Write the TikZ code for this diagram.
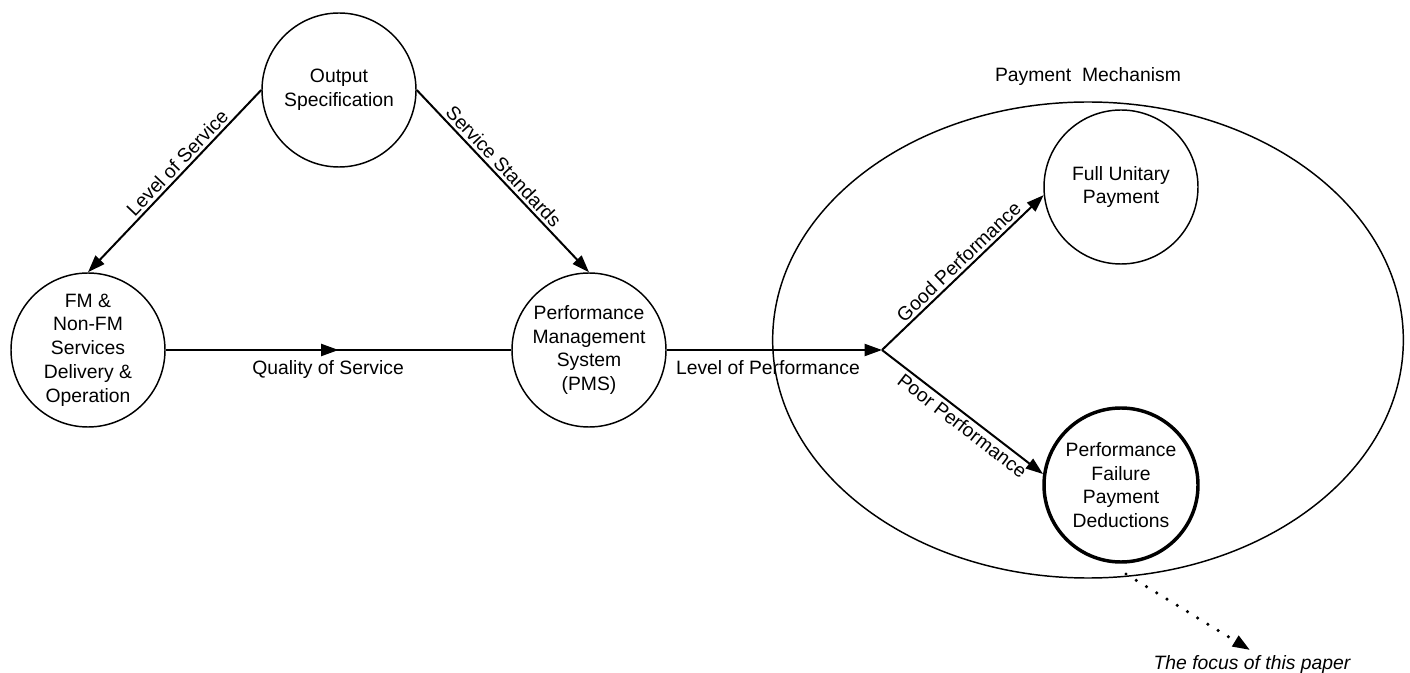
\documentclass[tikz,border=0pt]{standalone}
\usepackage{fontspec}
\setmainfont{Liberation Sans}
\usetikzlibrary{arrows.meta,shapes.geometric,decorations.markings}

\begin{document}
\begin{tikzpicture}[x=0.75pt, y=-0.75pt, thick,
		every node/.style={font=\fontsize{14.5}{17.8}\selectfont},
		main node/.style={circle,draw,line width=1.1pt,minimum size=115.5pt,inner sep=0pt,align=center},
		flow/.style={line width=1.5pt,-{Triangle[length=13pt,width=9pt]}},
		mid flow/.style={line width=1.5pt,postaction={decorate},
			decoration={markings,mark=at position 0.5 with {\arrow{Triangle[length=13pt,width=9pt]}}}},
		dotted flow/.style={line width=2.6pt,line cap=round,dash pattern=on 0pt off 9pt,-{Triangle[length=13pt,width=9pt]}}]
		
		\useasboundingbox (0,0) rectangle (1410,673);
		
		\node[main node] (1) at (339,90) {Output\\Specification};
		\node[main node] (2) at (88,350) {FM \&\\Non-FM\\Services\\Delivery \&\\Operation};
		\node[main node] (3) at (589,350) {Performance\\Management\\System\\(PMS)};
		
		% payment mechanism
		\node[draw,ellipse,line width=1.1pt,minimum width=473pt,minimum height=357pt,inner sep=0pt] (pm) at (1088,340) {};
		\node (pmlabel) at (1088,77) {Payment\ \ Mechanism};
		\node[main node] (4) at (1121,187) {Full Unitary\\Payment};
		\node[main node,line width=2.6pt] (5) at (1121,485) {Performance\\Failure\\Payment\\Deductions};
		\coordinate (b) at (882,350);
		
		\path[every node/.style={font=\fontsize{14.5}{17.8}\selectfont,inner sep=2pt}]
		(1.west) edge[flow] node[sloped,above,pos=0.44] {Level of Service} (2.north)
		(1.east) edge[flow] node[sloped,above,pos=0.46] {Service Standards} (3.north)
		(2.east) edge[mid flow] node[below=5pt,pos=0.47] {Quality of Service} (3.west)
		(3.east) edge[flow] node[below=5pt,pos=0.47] {Level of Performance} (b)
		(b) edge[flow] node[sloped,above,pos=0.52] {Good Performance} (4.186)
		(b) edge[flow] node[sloped,below,pos=0.54] {Poor Performance} (5.172);
		
		% focus
		\coordinate (f) at (1126,574);
		\node[font=\fontsize{14.5}{17.8}\selectfont\itshape] (6) at (1252,664) {The focus of this paper};
		\draw[dotted flow] (f) -- (6.north -| 1250,0);
		\end{tikzpicture}
\end{document}
